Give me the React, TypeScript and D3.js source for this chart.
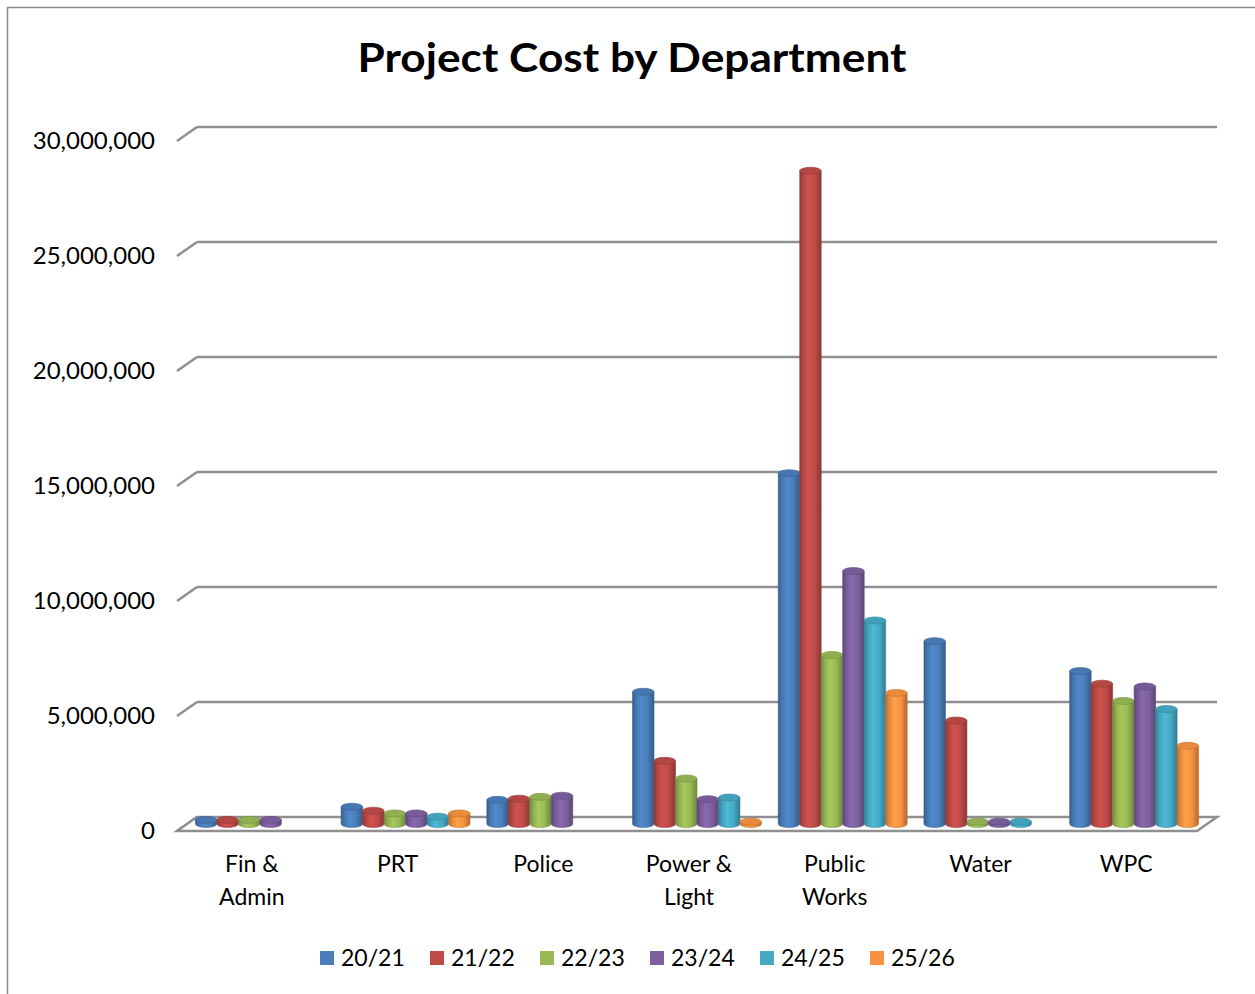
import React from "react";
import * as d3 from "d3";

const categories = ["Fin & Admin", "PRT", "Police", "Power & Light", "Public Works", "Water", "WPC"];
const categoryLines = [["Fin &", "Admin"], ["PRT"], ["Police"], ["Power &", "Light"], ["Public", "Works"], ["Water"], ["WPC"]];
const seriesNames = ["20/21", "21/22", "22/23", "23/24", "24/25", "25/26"];
const seriesColors = ["#4A7EBB", "#BE4B48", "#98B954", "#7D60A0", "#46AAC5", "#F69240"];

// values per series, one entry per department (null = no bar)
const fy2021 = [180000, 750000, 1050000, 5750000, 15250000, 7950000, 6650000];
const fy2122 = [180000, 580000, 1100000, 2750000, 28400000, 4500000, 6100000];
const fy2223 = [180000, 460000, 1180000, 1980000, 7350000, 100000, 5350000];
const fy2324 = [180000, 460000, 1230000, 1080000, 11000000, 100000, 5980000];
const fy2425 = [null, 320000, null, 1150000, 8850000, 100000, 5000000];
const fy2526 = [null, 460000, null, 100000, 5700000, null, 3400000];
const seriesValues = [fy2021, fy2122, fy2223, fy2324, fy2425, fy2526];

const yTicks = [0, 5000000, 10000000, 15000000, 20000000, 25000000, 30000000];

const W = 1255;
const H = 994;
const left = 177;
const right = 1197;
const floorBack = 817;
const depthX = 20;
const depthY = -14;
const topY = 127;
const ry = 3.5;

export default function App() {
  const x0 = d3.scaleBand<string>().domain(categories).range([left, right]);
  const x1 = d3.scaleBand<string>().domain(seriesNames).range([0, x0.bandwidth()]).paddingOuter(0.39);
  const yBack = d3.scaleLinear().domain([0, 30000000]).range([floorBack, topY]);
  const fmt = d3.format(",");
  const font = "Lato, 'Open Sans', sans-serif";

  const midDx = depthX / 2;
  const midDy = depthY / 2;

  const bars: any[] = [];
  seriesValues.forEach((vals, si) => {
    vals.forEach((v, ci) => {
      if (v == null) return;
      const bx = (x0(categories[ci]) as number) + (x1(seriesNames[si]) as number) + midDx;
      const w = x1.bandwidth();
      const yb = yBack(0) - depthY + midDy;
      const yt = yBack(v) - depthY + midDy;
      bars.push({ si, ci, bx, w, yb, yt });
    });
  });

  return (
    <div style={{ position: "absolute", left: 0, top: 0 }}>
      <svg width={W} height={H} style={{ display: "block", background: "#fff" }}>
        <defs>
          {seriesColors.map((c, i) => {
            const col = d3.color(c) as d3.RGBColor;
            return (
              <linearGradient key={i} id={"cyl" + i} x1="0" x2="1" y1="0" y2="0">
                <stop offset="0%" stopColor={col.darker(0.9).formatHex()} />
                <stop offset="15%" stopColor={col.darker(0.2).formatHex()} />
                <stop offset="40%" stopColor={col.brighter(0.25).formatHex()} />
                <stop offset="70%" stopColor={c} />
                <stop offset="100%" stopColor={col.darker(0.9).formatHex()} />
              </linearGradient>
            );
          })}
        </defs>

        <rect x={7.5} y={7.5} width={W + 10} height={H + 10} fill="none" stroke="#8a8a8a" strokeWidth={1.5} />

        <text x={632} y={72} textAnchor="middle" fontFamily={font} fontWeight="bold" fontSize={41}
          textLength={549} lengthAdjust="spacingAndGlyphs" fill="#000">
          Project Cost by Department
        </text>

        {yTicks.map((t) => (
          <g key={t}>
            {t > 0 && (
              <line x1={left + depthX} x2={right + depthX} y1={yBack(t)} y2={yBack(t)} stroke="#8f8f8f" strokeWidth={2.5} />
            )}
            <line x1={left} x2={left + depthX} y1={yBack(t) - depthY} y2={yBack(t)} stroke="#8f8f8f" strokeWidth={2.5} />
            <text x={155} y={yBack(t) - depthY + 8} textAnchor="end" fontFamily={font} fontSize={24} fill="#000">
              {fmt(t)}
            </text>
          </g>
        ))}

        <polygon
          points={[
            [left, yBack(0) - depthY],
            [left + depthX, yBack(0)],
            [right + depthX, yBack(0)],
            [right, yBack(0) - depthY],
          ].map((p) => p.join(",")).join(" ")}
          fill="#fff"
          stroke="#8f8f8f"
          strokeWidth={2.5}
        />

        {bars.map((b, i) => {
          const col = d3.color(seriesColors[b.si]) as d3.RGBColor;
          const rx = b.w / 2;
          const body = `M${b.bx},${b.yt} L${b.bx},${b.yb} A${rx},${ry} 0 0 0 ${b.bx + b.w},${b.yb} L${b.bx + b.w},${b.yt} Z`;
          return (
            <g key={i}>
              <path d={body} fill={`url(#cyl${b.si})`} stroke={col.darker(0.6).formatHex()} strokeWidth={0.6} />
              <ellipse cx={b.bx + rx} cy={b.yt} rx={rx} ry={ry} fill={col.darker(0.15).formatHex()} stroke={col.darker(0.7).formatHex()} strokeWidth={0.6} />
            </g>
          );
        })}

        {categoryLines.map((lines, ci) => {
          const cx = (x0(categories[ci]) as number) + x0.bandwidth() / 2 + 2;
          return (
            <text key={ci} textAnchor="middle" fontFamily={font} fontSize={23} fill="#000">
              {lines.map((l, li) => (
                <tspan key={li} x={cx} y={872 + li * 33}>{l}</tspan>
              ))}
            </text>
          );
        })}

        {seriesNames.map((s, i) => (
          <g key={s} transform={`translate(${320 + i * 110},951)`}>
            <rect x={0} y={0} width={14} height={14} fill={seriesColors[i]} />
            <text x={21} y={15} fontFamily={font} fontSize={23} fill="#000">{s}</text>
          </g>
        ))}
      </svg>
    </div>
  );
}
